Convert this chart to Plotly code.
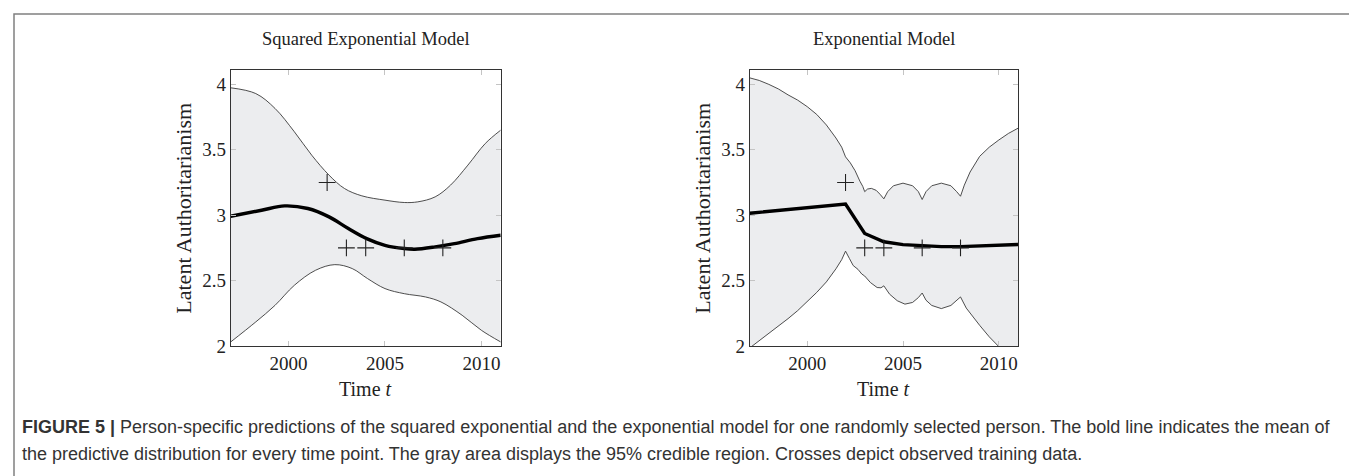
import plotly.graph_objects as go

# --- datos ---
obs_t = [2002, 2003, 2004, 2006, 2008]
obs_y = [3.25, 2.75, 2.75, 2.75, 2.75]

# modelo exponencial cuadrado (izquierda)
se_mean_t = [1997.0, 1998.6, 1999.8, 2001.0, 2002.1, 2003.1, 2004.05, 2005.0,
             2006.0, 2006.55, 2007.6, 2008.6, 2009.8, 2011.0]
se_mean_y = [2.992, 3.038, 3.071, 3.051, 2.987, 2.898, 2.821, 2.77,
             2.745, 2.74, 2.758, 2.783, 2.821, 2.847]
se_up_t = [1997.0, 1998.3, 1999.3, 2000.3, 2001.2, 2002.1, 2002.9, 2003.8,
           2005.0, 2006.0, 2006.7, 2007.6, 2008.4, 2009.3, 2010.2, 2011.0]
se_up_y = [3.974, 3.93, 3.816, 3.638, 3.459, 3.306, 3.204, 3.148,
           3.115, 3.097, 3.102, 3.14, 3.23, 3.383, 3.548, 3.65]
se_lo_t = [1997.0, 1998.3, 1999.3, 2000.3, 2001.4, 2002.4, 2003.3, 2004.1,
           2005.0, 2006.0, 2007.1, 2007.9, 2009.0, 2010.0, 2011.0]
se_lo_y = [2.031, 2.184, 2.311, 2.464, 2.579, 2.622, 2.592, 2.515,
           2.439, 2.40, 2.375, 2.337, 2.235, 2.12, 2.031]

# modelo exponencial (derecha)
ex_mean_t = [1997, 2002, 2003, 2004, 2005, 2006, 2007, 2008, 2009, 2010, 2011]
ex_mean_y = [3.015, 3.085, 2.86, 2.797, 2.775, 2.765, 2.76, 2.76, 2.765, 2.77, 2.776]
ex_up_t = [1997, 1997.5, 1998, 1998.5, 1999, 1999.5, 2000, 2000.5, 2001, 2001.5,
           2001.8, 2002.0, 2002.25, 2002.5, 2002.75, 2002.9, 2003.0,
           2003.15, 2003.35, 2003.6, 2003.8, 2004.0,
           2004.2, 2004.5, 2005.0, 2005.5, 2005.8, 2006.0,
           2006.2, 2006.5, 2007.0, 2007.5, 2007.8, 2008.0,
           2008.2, 2008.5, 2009.0, 2009.5, 2010.0, 2010.5, 2011.0]
ex_up_y = [4.05, 4.03, 4.00, 3.965, 3.92, 3.88, 3.83, 3.77, 3.69, 3.59,
           3.52, 3.446, 3.40, 3.34, 3.26, 3.22, 3.18,
           3.20, 3.205, 3.19, 3.16, 3.125,
           3.18, 3.225, 3.245, 3.225, 3.18, 3.12,
           3.18, 3.225, 3.245, 3.225, 3.18, 3.145,
           3.23, 3.33, 3.45, 3.52, 3.575, 3.625, 3.665]
ex_lo_t = [1997, 1997.5, 1998, 1998.5, 1999, 1999.5, 2000, 2000.5, 2001, 2001.5,
           2001.8, 2002.0, 2002.2, 2002.4, 2002.65, 2002.85, 2003.0,
           2003.3, 2003.65, 2003.85, 2004.0,
           2004.3, 2004.7, 2005.1, 2005.5, 2005.8, 2006.0,
           2006.2, 2006.5, 2007.0, 2007.5, 2007.8, 2008.0,
           2008.3, 2008.6, 2009.0, 2009.5, 2010.0, 2010.5, 2011.0]
ex_lo_y = [1.985, 2.04, 2.094, 2.15, 2.209, 2.27, 2.337, 2.41, 2.49, 2.59,
           2.66, 2.725, 2.67, 2.615, 2.586, 2.55, 2.535,
           2.485, 2.447, 2.445, 2.46,
           2.396, 2.346, 2.32, 2.333, 2.37, 2.405,
           2.35, 2.31, 2.286, 2.31, 2.345, 2.375,
           2.29, 2.23, 2.158, 2.07, 1.99, 1.92, 1.85]

x_ticks = [2000, 2005, 2010]
y_ticks = [2, 2.5, 3, 3.5, 4]
y_ticktext = ["2", "2.5", "3", "3.5", "4"]

titles = ["Squared Exponential Model", "Exponential Model"]
caption_1 = ("<b>FIGURE 5 |</b> Person-specific predictions of the squared exponential and the "
             "exponential model for one randomly selected person. The bold line indicates the mean of")
caption_2 = ("the predictive distribution for every time point. The gray area displays the 95% "
             "credible region. Crosses depict observed training data.")

# --- estilo ---
W, H = 1357, 476
SERIF = "Liberation Serif"
SANS = "Liberation Sans"
FILL = "#ECEDEF"
BORDE = "#3a3a3a"
TEXTO = "#222222"


def px(x):
    return x / W


def py(y):
    return 1 - y / H


def add_panel(fig, xa, ya, up_t, up_y, lo_t, lo_y, mean_t, mean_y, shape):
    """Banda de credibilidad, media y observaciones de un panel"""
    fig.add_trace(go.Scatter(
        x=up_t, y=up_y, mode="lines", xaxis=xa, yaxis=ya,
        line=dict(color=BORDE, width=0.9, shape=shape),
        showlegend=False, hoverinfo="skip"
    ))
    fig.add_trace(go.Scatter(
        x=lo_t, y=lo_y, mode="lines", xaxis=xa, yaxis=ya,
        line=dict(color=BORDE, width=0.9, shape=shape),
        fill="tonexty", fillcolor=FILL,
        showlegend=False, hoverinfo="skip"
    ))
    fig.add_trace(go.Scatter(
        x=mean_t, y=mean_y, mode="lines", xaxis=xa, yaxis=ya,
        line=dict(color="black", width=3.4, shape=shape),
        showlegend=False
    ))
    fig.add_trace(go.Scatter(
        x=obs_t, y=obs_y, mode="markers", xaxis=xa, yaxis=ya,
        marker=dict(symbol="cross-thin", size=12, line=dict(width=1.1, color=TEXTO)),
        showlegend=False
    ))


fig = go.Figure()
add_panel(fig, "x", "y", se_up_t, se_up_y, se_lo_t, se_lo_y, se_mean_t, se_mean_y, "spline")
add_panel(fig, "x2", "y2", ex_up_t, ex_up_y, ex_lo_t, ex_lo_y, ex_mean_t, ex_mean_y, "linear")

panels = [(222.7, 492.7), (741.7, 1010)]
top, bottom = 62, 338

axis_common = dict(
    showline=True, linecolor="#333333", linewidth=1, mirror="allticks",
    ticks="inside", ticklen=5, tickcolor="#c4c4c4", tickwidth=1,
    showgrid=False, zeroline=False, automargin=False,
    tickfont=dict(family=SERIF, size=19, color=TEXTO)
)

layout_axes = {}
for i, (x0, x1) in enumerate(panels):
    sfx = "" if i == 0 else str(i + 1)
    layout_axes["xaxis" + sfx] = dict(
        axis_common, domain=[px(x0), px(x1)], range=[1997, 2011],
        tickvals=x_ticks, anchor="y" + sfx
    )
    layout_axes["yaxis" + sfx] = dict(
        axis_common, domain=[py(bottom), py(top)], range=[2, 4.11],
        tickvals=y_ticks, ticktext=y_ticktext, anchor="x" + sfx
    )

annotations = []
for i, (x0, x1) in enumerate(panels):
    cx = (x0 + x1) / 2
    annotations.append(dict(
        x=px(cx), y=py(31), xref="paper", yref="paper", text=titles[i],
        xanchor="center", yanchor="middle",
        showarrow=False, font=dict(family=SERIF, size=18.5, color=TEXTO)
    ))
    annotations.append(dict(
        x=px(cx), y=py(381), xref="paper", yref="paper", text="Time <i>t</i>",
        xanchor="center", yanchor="middle",
        showarrow=False, font=dict(family=SERIF, size=20, color=TEXTO)
    ))
    annotations.append(dict(
        x=px(x0 - 48), y=py((top + bottom) / 2), xref="paper", yref="paper",
        text="Latent Authoritarianism", textangle=-90,
        xanchor="center", yanchor="middle",
        showarrow=False, font=dict(family=SERIF, size=22, color=TEXTO)
    ))

annotations.append(dict(
    x=px(12), y=py(419), xref="paper", yref="paper", text=caption_1,
    xanchor="left", yanchor="middle",
    showarrow=False, font=dict(family=SANS, size=18, color="#333333")
))
annotations.append(dict(
    x=px(12), y=py(446), xref="paper", yref="paper", text=caption_2,
    xanchor="left", yanchor="middle",
    showarrow=False, font=dict(family=SANS, size=18, color="#333333")
))

fig.update_layout(
    template="none",
    width=W, height=H,
    margin=dict(l=0, r=0, t=0, b=0),
    plot_bgcolor="white",
    paper_bgcolor="white",
    font=dict(family=SERIF, color=TEXTO),
    annotations=annotations,
    shapes=[dict(
        type="rect", xref="paper", yref="paper",
        x0=px(6), x1=px(1353), y0=-0.1, y1=py(6),
        line=dict(color="#808080", width=1.5)
    )],
    **layout_axes
)

fig.write_html("out.html")
